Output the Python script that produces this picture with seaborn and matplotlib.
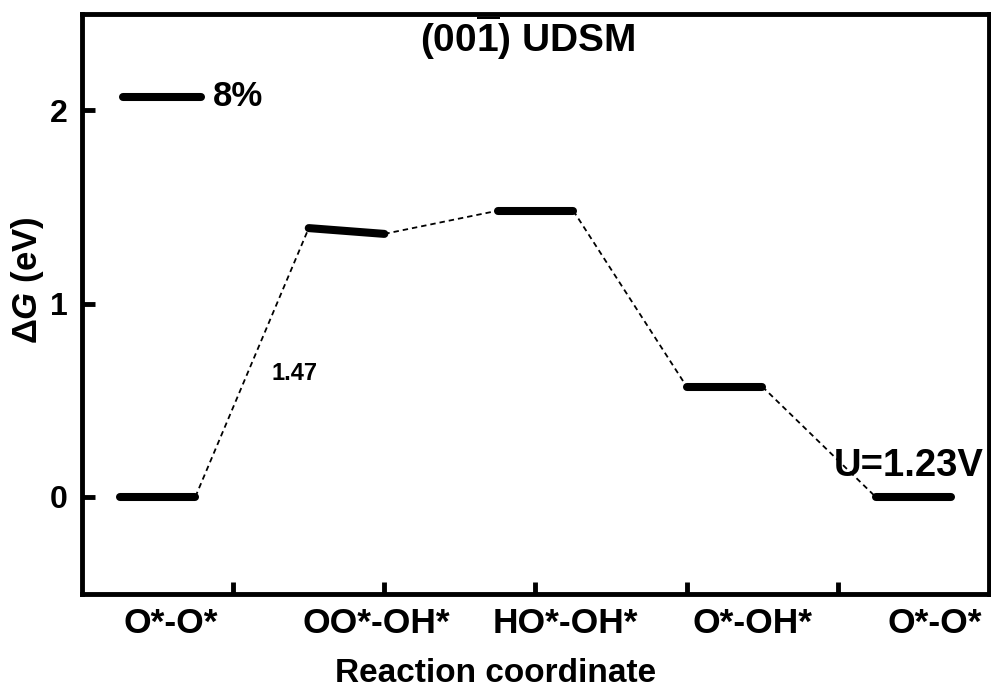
import matplotlib
matplotlib.use("Agg")
import matplotlib.pyplot as plt
import seaborn as sns
import pandas as pd

# Free-energy profile of the oxygen evolution steps on the (00-1) UDSM surface
states = ["O*-O*", "OO*-OH*", "HO*-OH*", "O*-OH*", "O*-O*"]
dg_start = [0.00, 1.39, 1.48, 0.57, 0.00]   # eV, left end of each level
dg_end = [0.00, 1.36, 1.48, 0.57, 0.00]     # eV, right end of each level
strain_dg = 2.07                            # eV, level under 8 % strain
strain_label = "8%"
barrier_label = "1.47"
potential_label = "U=1.23V"
y_ticks = [0, 1, 2]
x_ticks = [1, 2, 3, 4, 5]

sns.set_theme(style="ticks")
plt.rcParams.update({
    "font.family": ["Liberation Sans", "DejaVu Sans"],
    "font.weight": "bold",
    "axes.labelweight": "bold",
    "mathtext.fontset": "custom",
    "mathtext.rm": "Liberation Sans:bold",
    "mathtext.bf": "Liberation Sans:bold",
    "mathtext.it": "Liberation Sans:italic:bold",
    "axes.edgecolor": "black",
    "axes.labelcolor": "black",
    "text.color": "black",
    "xtick.color": "black",
    "ytick.color": "black",
    "xtick.labelcolor": "black",
    "ytick.labelcolor": "black",
    "axes.linewidth": 3.5,
})

# level geometry along the reaction coordinate
step, width, start = 1.25, 0.5, 0.25
x0 = [start + step * i for i in range(len(states))]
x1 = [x + width for x in x0]

level_rows = []
for i in range(len(states)):
    level_rows.append({"seg": i, "x": x0[i], "y": dg_start[i]})
    level_rows.append({"seg": i, "x": x1[i], "y": dg_end[i]})
levels = pd.DataFrame(level_rows)

link_rows = []
for i in range(len(states) - 1):
    link_rows.append({"seg": i, "x": x1[i], "y": dg_end[i]})
    link_rows.append({"seg": i, "x": x0[i + 1], "y": dg_start[i + 1]})
links = pd.DataFrame(link_rows)

strain = pd.DataFrame({"seg": [0, 0], "x": [0.27, 0.79], "y": [strain_dg, strain_dg]})

fig = plt.figure(figsize=(9.91, 6.89), dpi=100)
ax = fig.add_axes([82 / 991, 95.5 / 689, 907 / 991, 580 / 689])

sns.lineplot(data=links, x="x", y="y", units="seg", estimator=None, sort=False,
             color="black", lw=1.3, linestyle=(0, (3, 2.2)), ax=ax, legend=False)
sns.lineplot(data=levels, x="x", y="y", units="seg", estimator=None, sort=False,
             color="black", lw=5.8, solid_capstyle="round", ax=ax, legend=False)
sns.lineplot(data=strain, x="x", y="y", units="seg", estimator=None, sort=False,
             color="black", lw=5.8, solid_capstyle="round", ax=ax, legend=False)

ax.set_xlim(0, 6)
ax.set_ylim(-0.5, 2.5)
for side in ["top", "right", "left", "bottom"]:
    ax.spines[side].set_visible(True)
    ax.spines[side].set_linewidth(3.5)
    ax.spines[side].set_color("black")

ax.set_xticks(x_ticks)
ax.set_xticklabels([])
label_pos = [0.587, 1.947, 3.195, 4.436, 5.644]
ax.set_xticks(label_pos, states, minor=True)
ax.tick_params(axis="x", which="major", direction="in", length=9, width=3.5)
ax.tick_params(axis="x", which="minor", length=0, pad=10, labelsize=25.5)
ax.set_yticks(y_ticks)
ax.set_yticklabels([str(v) for v in y_ticks])
ax.tick_params(axis="y", which="major", direction="in", length=9, width=3.5,
               pad=10, labelsize=23)
ax.tick_params(axis="y", which="minor", length=0)

ax.set_xlabel("Reaction coordinate", fontsize=24, fontweight="bold", color="black")
ax.xaxis.set_label_coords(0.456, -0.112)
ax.set_ylabel(r"Δ$\mathit{G}$ (eV)", fontsize=25, fontweight="bold", color="black")
ax.yaxis.set_label_coords(-0.04, 0.54)

ax.text(0.4917, 0.933, r"(00$\overline{\mathrm{1}}$) UDSM", transform=ax.transAxes,
        ha="center", va="baseline", fontsize=28, fontweight="bold", color="black")
ax.text(0.865, 2.021, strain_label, ha="left", va="baseline",
        fontsize=25, fontweight="bold", color="black")
ax.text(1.254, 0.602, barrier_label, ha="left", va="baseline",
        fontsize=17, fontweight="bold", color="black")
ax.text(4.975, 0.107, potential_label, ha="left", va="baseline",
        fontsize=27.5, fontweight="bold", color="black")

fig.savefig("out.png", dpi=100)
